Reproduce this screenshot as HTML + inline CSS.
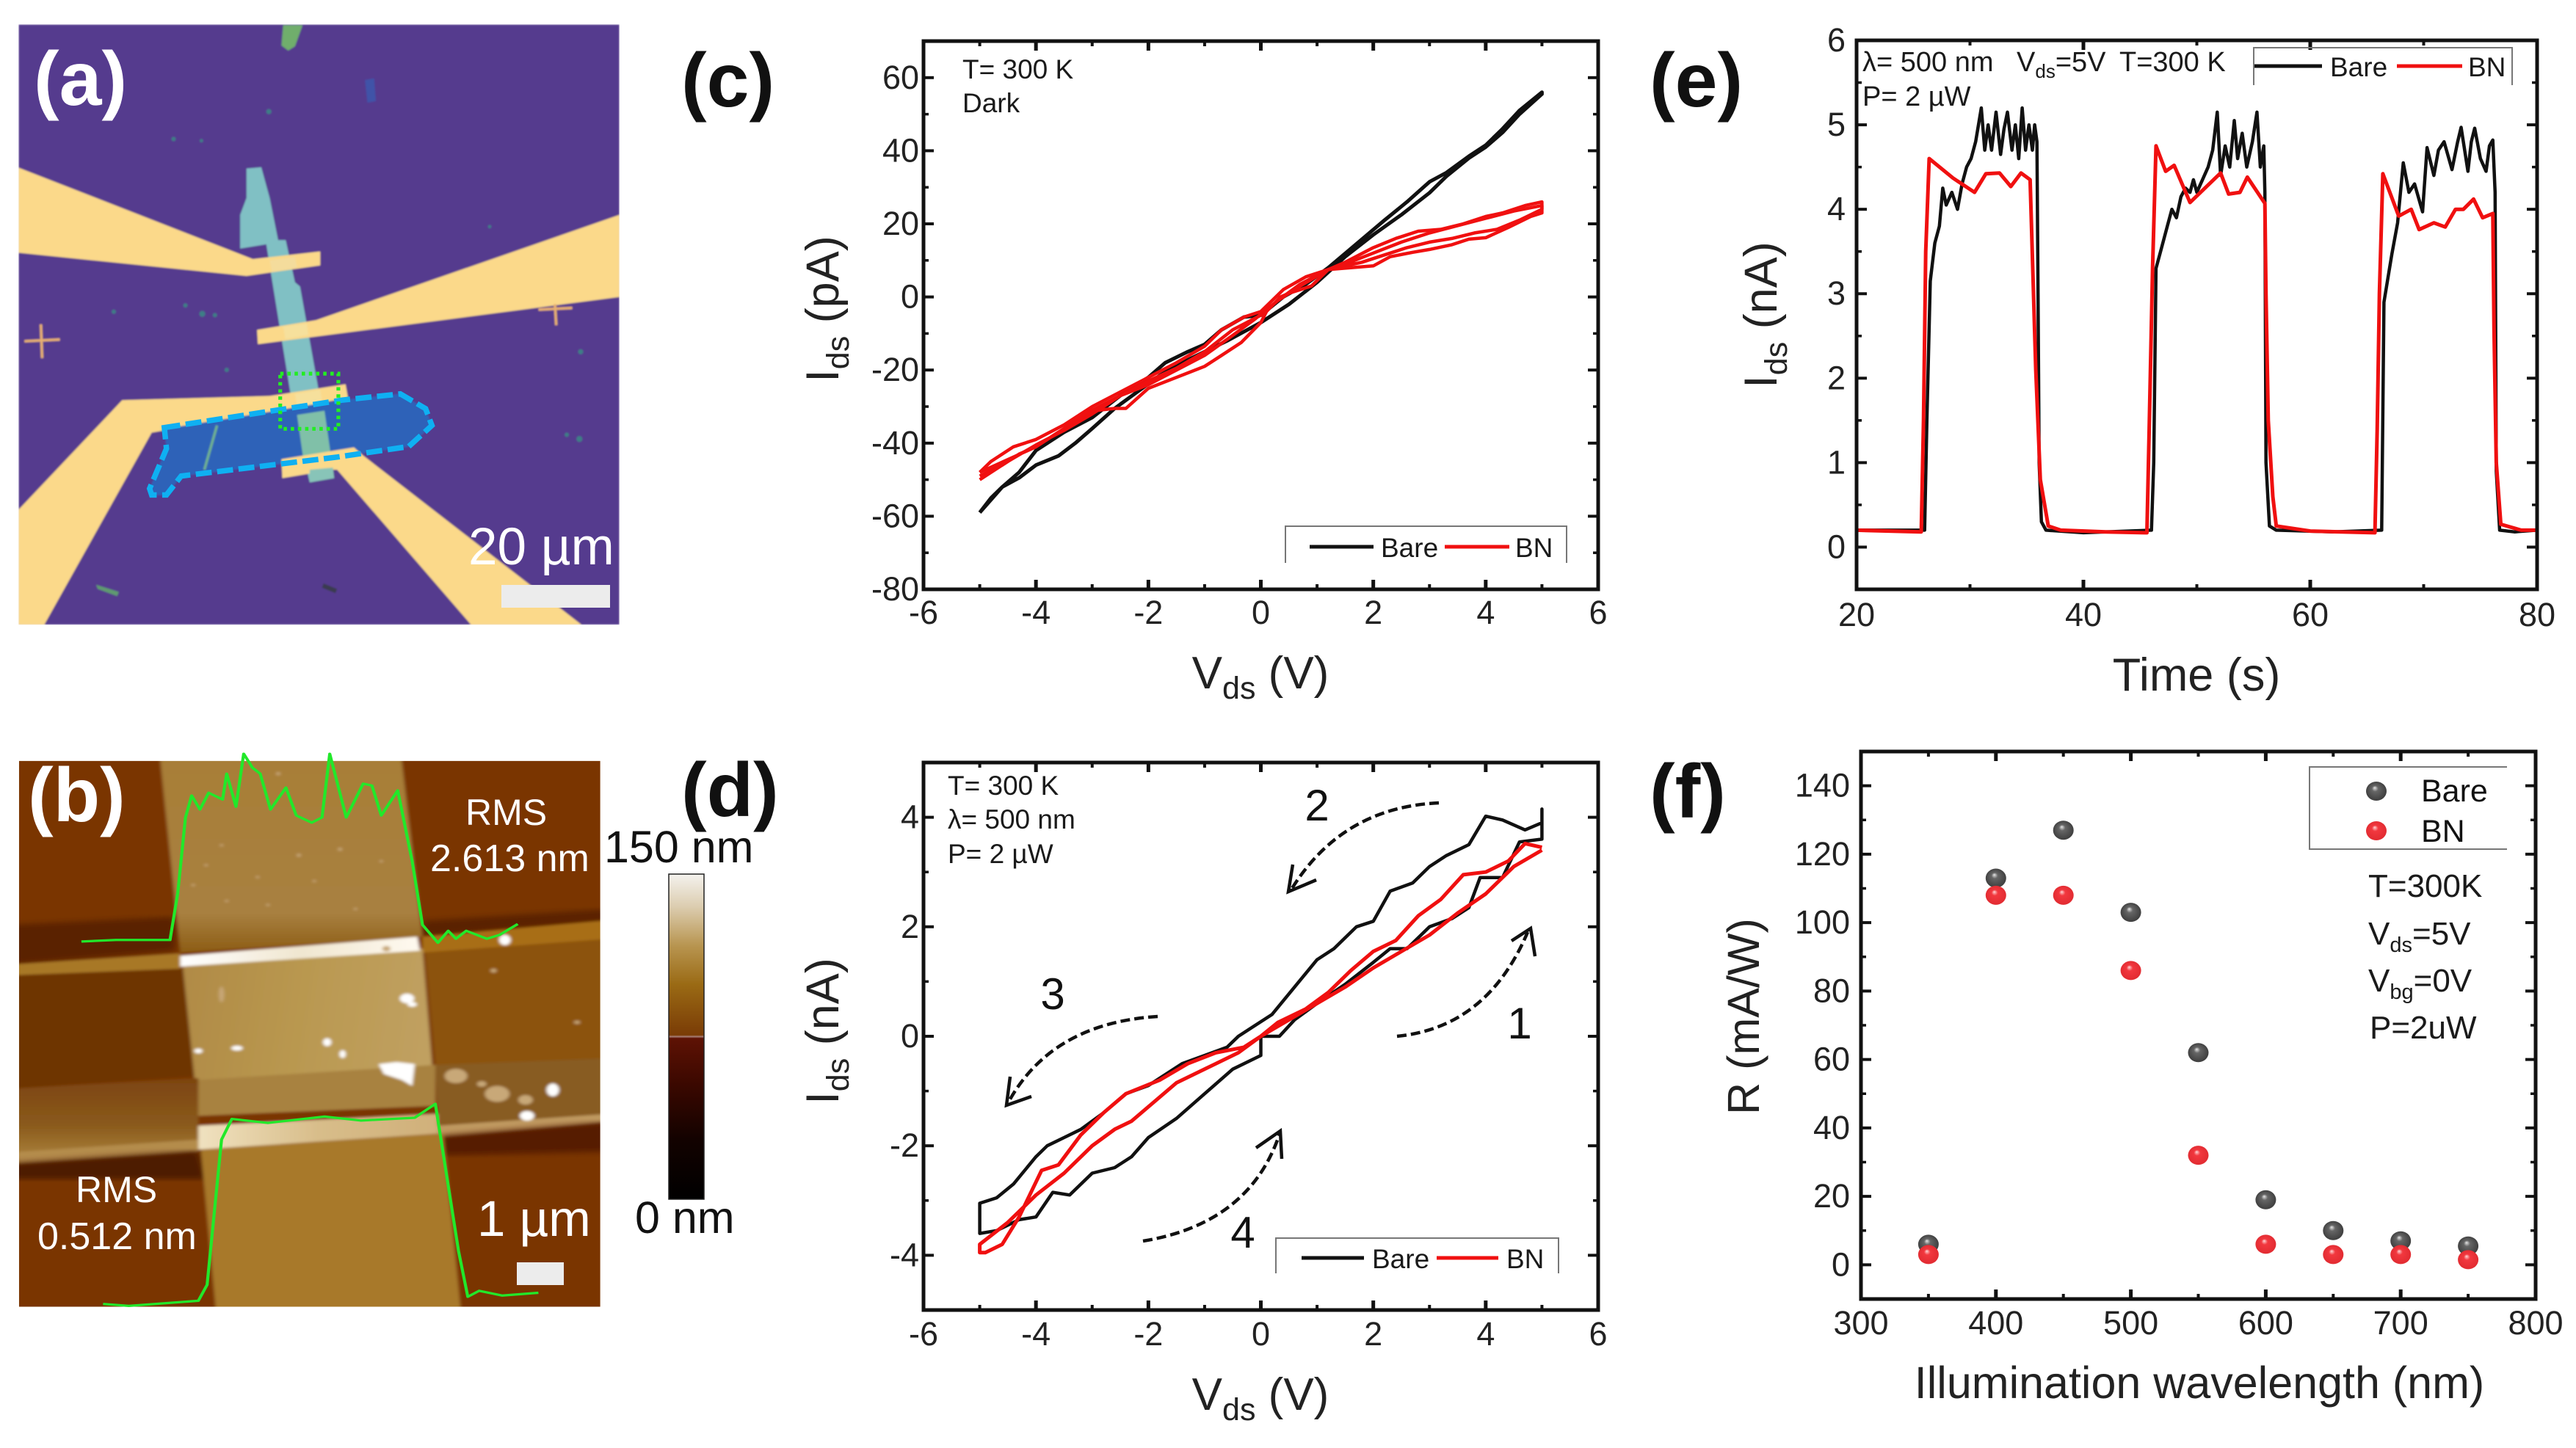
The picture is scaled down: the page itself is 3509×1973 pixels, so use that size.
<!DOCTYPE html>
<html lang="en">
<head>
<meta charset="utf-8">
<title>Device characterisation figure</title>
<style>
html,body{margin:0;padding:0;background:#fff}
svg{display:block}
text{font-family:"Liberation Sans",Arial,sans-serif}
.panel-letter{font-weight:bold;font-size:104px}
.note{font-size:37px;fill:#1a1a1a}
.note-e{font-size:38px;fill:#1a1a1a}
.note-f{font-size:44px;fill:#1a1a1a}
.leg{font-size:37px;fill:#1a1a1a}
</style>
</head>
<body>
<svg id="figure" xmlns="http://www.w3.org/2000/svg" width="3509" height="1973" viewBox="0 0 3509 1973">
<defs>
  <filter id="soft" x="-5%" y="-5%" width="110%" height="110%"><feGaussianBlur stdDeviation="2"/></filter>
  <filter id="soft3" x="-5%" y="-5%" width="110%" height="110%"><feGaussianBlur stdDeviation="3.5"/></filter>
  <filter id="soft2" x="-5%" y="-5%" width="110%" height="110%"><feGaussianBlur stdDeviation="7"/></filter>
  <clipPath id="clip-a"><rect x="44" y="58" width="1426" height="1425"/></clipPath>
  <clipPath id="clip-b"><rect x="37" y="68" width="1128" height="1372"/></clipPath>
  <radialGradient id="ball-dark" cx="0.5" cy="0.5" r="0.55" fx="0.42" fy="0.32"><stop offset="0" stop-color="#e8e8e8"/><stop offset="0.28" stop-color="#666"/><stop offset="1" stop-color="#3a3a3a"/></radialGradient>
  <radialGradient id="ball-red" cx="0.5" cy="0.5" r="0.55" fx="0.42" fy="0.32"><stop offset="0" stop-color="#ffd8d8"/><stop offset="0.28" stop-color="#f2383f"/><stop offset="1" stop-color="#e02a30"/></radialGradient>
  <linearGradient id="cbar" x1="0" y1="0" x2="0" y2="1">
    <stop offset="0" stop-color="#f4f2ee"/><stop offset="0.1" stop-color="#dccdb0"/><stop offset="0.22" stop-color="#b89550"/><stop offset="0.34" stop-color="#9a6a14"/><stop offset="0.495" stop-color="#7a3c06"/><stop offset="0.5" stop-color="#a88078"/><stop offset="0.505" stop-color="#5e1204"/><stop offset="0.65" stop-color="#3a0800"/><stop offset="0.82" stop-color="#120200"/><stop offset="1" stop-color="#000"/>
  </linearGradient>
  <linearGradient id="col-top" x1="0" y1="0" x2="0" y2="1"><stop offset="0" stop-color="#a87e36"/><stop offset="0.8" stop-color="#a88040"/><stop offset="1" stop-color="#8c5c14"/></linearGradient>
  <linearGradient id="col-mid" x1="0" y1="0" x2="1" y2="0.1"><stop offset="0" stop-color="#b08a45"/><stop offset="0.5" stop-color="#b99850"/><stop offset="1" stop-color="#c0a060"/></linearGradient>
  <linearGradient id="bright" x1="0" y1="0" x2="1" y2="0"><stop offset="0" stop-color="#fff"/><stop offset="0.5" stop-color="#f0e6d0"/><stop offset="1" stop-color="#fffaf0"/></linearGradient>
  <linearGradient id="bright2" x1="0" y1="0" x2="1" y2="0"><stop offset="0" stop-color="#f0e2c0"/><stop offset="0.5" stop-color="#d8bd8a"/><stop offset="1" stop-color="#d0b07a"/></linearGradient>
  <linearGradient id="band-left" x1="0" y1="0" x2="0" y2="1"><stop offset="0" stop-color="#7c4410"/><stop offset="0.55" stop-color="#8a5a1c"/><stop offset="1" stop-color="#b08840"/></linearGradient>
</defs>

<g id="panel-a">
  <g transform="scale(0.574)" clip-path="url(#clip-a)">
    <g filter="url(#soft)">
      <rect x="44" y="58" width="1426" height="1425" fill="#553a8e"/>
      <polygon points="672,60 718,60 700,110 684,120 668,108" fill="#6fae6c"/>
      <polygon points="866,190 888,186 892,240 872,244" fill="#3f52a8"/>
      <polygon points="585,400 620,397 640,470 660,570 678,570 700,670 712,680 755,920 780,1060 793,1135 735,1145 700,1000 640,630 632,580 570,590 570,510 585,470" fill="#80c0c4"/>
      <polygon points="44,398 600,615 760,597 760,630 585,655 44,600" fill="#fbd98a"/>
      <polygon points="1470,510 750,760 610,783 612,817 1470,705" fill="#fbd98a"/>
      <polygon points="44,1210 290,950 640,940 820,912 826,945 360,1027 105,1483 44,1483" fill="#fbd98a"/>
      <polygon points="390,1018 810,950 950,935 1010,970 1025,1010 970,1060 800,1085 430,1130 395,1175 360,1175 355,1160 395,1065" fill="#2d62b8"/>
      <polygon points="705,985 770,975 790,1115 725,1125" fill="#80c0a8"/>
      <polygon points="668,1090 840,1062 860,1080 1380,1483 1118,1483 800,1115 790,1115 670,1135" fill="#fbd98a"/>
      <polygon points="735,1115 790,1110 793,1135 735,1145" fill="#88c4b8"/>
      <polygon points="640,618 700,610 705,635 645,645" fill="#f4dc9c"/>
      <polygon points="672,775 728,768 732,795 677,805" fill="#f6e09c"/>
      <polygon points="700,935 760,925 765,955 705,965" fill="#f6e09c"/>
      <line x1="515" y1="1010" x2="485" y2="1115" stroke="#6fb090" stroke-width="6"/>
      <g stroke="#e8b070" stroke-width="6" fill="none">
        <line x1="58" y1="810" x2="142" y2="806"/><line x1="97" y1="770" x2="100" y2="850"/>
        <line x1="1278" y1="735" x2="1358" y2="731"/><line x1="1317" y1="722" x2="1320" y2="772"/>
      </g>
      <g fill="#3c7e86">
        <circle cx="638" cy="265" r="6"/><circle cx="412" cy="330" r="5"/><circle cx="478" cy="334" r="4"/><circle cx="270" cy="740" r="5"/><circle cx="480" cy="745" r="7"/><circle cx="510" cy="748" r="5"/><circle cx="440" cy="725" r="5"/><circle cx="1375" cy="1042" r="7"/><circle cx="1345" cy="1032" r="5"/><circle cx="1378" cy="835" r="6"/><circle cx="1162" cy="538" r="4"/><circle cx="538" cy="878" r="5"/>
      </g>
      <polygon points="228,1388 282,1405 278,1415 232,1398" fill="#5f9a70"/>
      <polygon points="768,1385 800,1398 796,1408 764,1395" fill="#3a3a50"/>
    </g>
    <polygon points="390,1015 810,950 950,935 1010,970 1025,1010 970,1060 800,1085 430,1130 395,1175 360,1175 355,1160 395,1065" fill="none" stroke="#0fb0f2" stroke-width="13" stroke-dasharray="38 13"/>
    <rect x="665" y="887" width="138" height="131" fill="none" stroke="#22ee22" stroke-width="9" stroke-dasharray="8 9"/>
  </g>
  <text class="panel-letter" x="46" y="143" fill="#fff">(a)</text>
  <text x="638" y="769" font-size="71" fill="#fff">20 µm</text>
  <rect x="683" y="797" width="148" height="31" fill="#ececec"/>
</g>

<g id="panel-b">
  <g transform="translate(0,1000) scale(0.7018,0.5420)" clip-path="url(#clip-b)">
    <g filter="url(#soft3)">
      <rect x="20" y="50" width="1165" height="1410" fill="#7a3606"/>
      <polygon points="20,480 340,460 340,545 20,580" fill="#5a2000" filter="url(#soft2)"/>
      <polygon points="820,470 1185,440 1185,470 820,510" fill="#5a2000" filter="url(#soft2)"/>
      <polygon points="310,50 778,50 820,510 350,550" fill="url(#col-top)"/>
      <polygon points="20,580 350,552 350,595 20,612" fill="#a87828"/>
      <polygon points="820,510 1185,468 1185,515 820,550" fill="#a86e14"/>
      <polygon points="20,607 355,590 385,860 20,892" fill="#6e3402"/>
      <polygon points="825,550 1185,515 1185,815 845,835" fill="#8c520a"/>
      <polygon points="355,585 820,540 845,930 385,960" fill="url(#col-mid)"/>
      <polygon points="350,558 810,510 815,545 350,585" fill="url(#bright)"/>
      <polygon points="385,870 845,832 845,935 385,960" fill="#a88240"/>
      <polygon points="20,892 385,865 385,1045 20,1082" fill="url(#band-left)"/>
      <polygon points="845,832 1185,815 1185,960 850,985" fill="#885c20"/>
      <polygon points="850,985 1185,955 1185,975 850,1015" fill="#c09a60"/>
      <polygon points="385,985 850,955 850,1005 385,1045" fill="url(#bright2)"/>
      <polygon points="20,1052 385,1020 385,1050 20,1082" fill="#b48c4c"/>
      <polygon points="20,1080 385,1048 400,1120 20,1120" fill="#4e1c00" filter="url(#soft2)"/>
      <polygon points="855,1010 1185,975 1185,1050 860,1060" fill="#561f00" filter="url(#soft2)"/>
      <polygon points="390,1045 860,1005 895,1460 420,1460" fill="#a8792c"/>
      <g fill="#fff">
        <ellipse cx="790" cy="665" rx="14" ry="12"/><ellipse cx="800" cy="680" rx="9" ry="6"/>
        <ellipse cx="460" cy="790" rx="11" ry="6"/><ellipse cx="385" cy="797" rx="8" ry="6"/>
        <ellipse cx="635" cy="775" rx="8" ry="10"/><ellipse cx="665" cy="805" rx="6" ry="10"/>
        <polygon points="735,830 770,825 805,830 800,885 780,870 745,855"/>
        <ellipse cx="980" cy="518" rx="11" ry="13"/><ellipse cx="1073" cy="895" rx="12" ry="16"/><ellipse cx="1023" cy="960" rx="14" ry="12"/>
      </g>
      <g fill="#c8a878">
        <ellipse cx="885" cy="860" rx="22" ry="18"/><ellipse cx="965" cy="905" rx="24" ry="20"/><ellipse cx="935" cy="880" rx="9" ry="7"/><ellipse cx="1020" cy="920" rx="14" ry="12"/>
        <ellipse cx="1120" cy="725" rx="6" ry="4"/><ellipse cx="958" cy="595" rx="6" ry="5"/><ellipse cx="430" cy="655" rx="5" ry="20"/><ellipse cx="750" cy="540" rx="8" ry="7"/>
        <circle cx="540" cy="100" r="4"/><circle cx="660" cy="290" r="4"/><circle cx="580" cy="305" r="4"/><circle cx="430" cy="280" r="3"/><circle cx="500" cy="360" r="3"/><circle cx="400" cy="330" r="3"/><circle cx="610" cy="370" r="3"/><circle cx="520" cy="430" r="3"/><circle cx="690" cy="440" r="3"/><circle cx="440" cy="420" r="3"/><circle cx="740" cy="320" r="3"/><circle cx="375" cy="380" r="3"/>
      </g>
    </g>
  </g>
  <g transform="translate(0,1000) scale(0.7018,0.5420)" fill="none" stroke="#22e82a" stroke-width="6" stroke-linejoin="round">
    <polyline points="158,522 225,518 330,518 345,400 360,210 372,155 388,190 405,148 432,165 440,100 458,183 473,50 490,85 505,100 525,190 555,135 575,205 605,223 625,210 640,50 672,210 705,125 722,130 740,205 772,142 800,320 820,480 850,525 870,495 885,515 905,495 945,515 970,505 1005,478"/>
    <polyline points="200,1433 250,1438 385,1425 402,1385 430,1020 450,968 520,978 630,962 700,972 805,965 845,930 890,1300 908,1415 930,1400 975,1412 1045,1405"/>
  </g>
  <text class="panel-letter" x="38" y="1119" fill="#fff">(b)</text>
  <text x="634" y="1124" font-size="50" fill="#fff">RMS</text>
  <text x="586" y="1187" font-size="52" fill="#fff">2.613 nm</text>
  <text x="103" y="1638" font-size="50" fill="#fff">RMS</text>
  <text x="51" y="1702" font-size="52" fill="#fff">0.512 nm</text>
  <text x="650" y="1684" font-size="69" fill="#fff">1 µm</text>
  <rect x="704" y="1720" width="64" height="31" fill="#ececec"/>
</g>

<g id="colorbar">
  <rect x="911" y="1191" width="48" height="443" fill="url(#cbar)" stroke="#222" stroke-width="1.5"/>
  <text x="823" y="1175" font-size="61" fill="#111">150 nm</text>
  <text x="865" y="1680" font-size="61" fill="#111">0 nm</text>
</g>

<text class="panel-letter" x="928" y="145" fill="#111">(c)</text>
<text class="panel-letter" x="928" y="1112" fill="#111">(d)</text>
<text class="panel-letter" x="2247" y="145" fill="#111">(e)</text>
<text class="panel-letter" x="2247" y="1114" fill="#111">(f)</text>

<g id="charts"></g>

<g id="notes-c">
  <text class="note" x="1311" y="107">T= 300 K</text>
  <text class="note" x="1311" y="153">Dark</text>
</g>
<g id="notes-d">
  <text class="note" x="1291" y="1083">T= 300 K</text>
  <text class="note" x="1291" y="1129">λ= 500 nm</text>
  <text class="note" x="1291" y="1176">P= 2 µW</text>
</g>
<g id="notes-e">
  <text class="note-e" x="2537" y="97">λ= 500 nm</text>
  <text class="note-e" x="2747" y="97">V<tspan style="font-size:26px" dy="9">ds</tspan><tspan dy="-9">=5V</tspan></text>
  <text class="note-e" x="2887" y="97">T=300 K</text>
  <text class="note-e" x="2537" y="144">P= 2 µW</text>
</g>
<g id="notes-f">
  <text class="note-f" x="3226" y="1222">T=300K</text>
  <text class="note-f" x="3226" y="1287">V<tspan style="font-size:29px" dy="10">ds</tspan><tspan dy="-10">=5V</tspan></text>
  <text class="note-f" x="3226" y="1351">V<tspan style="font-size:29px" dy="10">bg</tspan><tspan dy="-10">=0V</tspan></text>
  <text class="note-f" x="3228" y="1415">P=2uW</text>
</g>

<g id="sweep-arrows" fill="none" stroke="#111" stroke-width="4.5">
  <path d="M1903 1412 Q2026 1400 2081 1270" stroke-dasharray="13 6"/>
  <polyline points="2059,1282 2085,1265 2091,1303"/>
  <path d="M1960 1094 Q1828 1100 1759 1212" stroke-dasharray="13 6"/>
  <polyline points="1761,1178 1755,1215 1793,1199"/>
  <path d="M1577 1385 Q1432 1394 1373 1503" stroke-dasharray="13 6"/>
  <polyline points="1376,1467 1371,1506 1405,1494"/>
  <path d="M1557 1691 Q1704 1667 1744 1542" stroke-dasharray="13 6"/>
  <polyline points="1711,1564 1744,1541 1746,1579"/>
</g>
<g id="sweep-numbers" font-size="60" fill="#111" text-anchor="middle">
  <text x="2070" y="1415">1</text>
  <text x="1794" y="1118">2</text>
  <text x="1434" y="1375">3</text>
  <text x="1693" y="1700">4</text>
</g>

<g id="legend-c">
  <polyline points="1751,767 1751,717 2134,717 2134,767" fill="none" stroke="#777" stroke-width="2"/>
  <line x1="1784" y1="745" x2="1871" y2="745" stroke="#111" stroke-width="5"/>
  <text class="leg" x="1881" y="759">Bare</text>
  <line x1="1968" y1="745" x2="2056" y2="745" stroke="#f01010" stroke-width="5"/>
  <text class="leg" x="2064" y="759">BN</text>
</g>
<g id="legend-d">
  <polyline points="1738,1735 1738,1687 2123,1687 2123,1735" fill="none" stroke="#777" stroke-width="2"/>
  <line x1="1773" y1="1714" x2="1858" y2="1714" stroke="#111" stroke-width="5"/>
  <text class="leg" x="1869" y="1728">Bare</text>
  <line x1="1957" y1="1714" x2="2041" y2="1714" stroke="#f01010" stroke-width="5"/>
  <text class="leg" x="2052" y="1728">BN</text>
</g>
<g id="legend-e">
  <polyline points="3070,116 3070,65 3422,65 3422,116" fill="none" stroke="#777" stroke-width="2"/>
  <line x1="3071" y1="90" x2="3163" y2="90" stroke="#111" stroke-width="5"/>
  <text class="leg" x="3174" y="104">Bare</text>
  <line x1="3265" y1="90" x2="3354" y2="90" stroke="#f01010" stroke-width="5"/>
  <text class="leg" x="3362" y="104">BN</text>
</g>
<g id="legend-f">
  <polyline points="3415,1045 3146,1045 3146,1157 3415,1157" fill="none" stroke="#777" stroke-width="2"/>
  <ellipse cx="3237" cy="1078" rx="14" ry="13" fill="url(#ball-dark)"/>
  <text x="3298" y="1092" font-size="43" fill="#111">Bare</text>
  <ellipse cx="3237" cy="1132" rx="14" ry="13" fill="url(#ball-red)"/>
  <text x="3298" y="1147" font-size="43" fill="#111">BN</text>
</g>

<script>
/* ---------- panel (c) data : dark I-V ---------- */
const cXTicks = [-6,-4,-2,0,2,4,6];
const cXMinor = [-5,-3,-1,1,3,5];
const cYTicks = [-80,-60,-40,-20,0,20,40,60];
const cYMinor = [-70,-50,-30,-10,10,30,50,70];
const cBareV = [-5,-4.8,-4.6,-4.3,-4,-3.6,-3.3,-3,-2.6,-2.2,-1.8,-1.4,-1,-0.6,-0.3,0,0.5,1,1.5,2,2.5,3,3.3,3.7,4,4.3,4.6,5,5,4.6,4.3,4,3.7,3.3,3,2.6,2.2,1.7,1.2,0.8,0.4,0,-0.3,-0.7,-1,-1.3,-1.7,-2,-2.5,-3,-3.5,-4,-4.3,-4.6,-5];
const cBareI = [-59,-55,-52,-49.5,-46,-43.5,-40,-36,-30.5,-26,-21.5,-18,-15,-12,-9.5,-7,-2,4,11,17,22.5,28.5,33,38,41,45,50,55.5,56,51,46,41.5,38.5,34,31.5,26,21,14.5,8,3.5,0,-5,-5.5,-9,-13,-15,-18,-22,-27,-33,-37,-42,-48,-52,-59];
const cBnV1 = [-5,-4.6,-4.3,-4,-3.6,-3.2,-2.9,-2.6,-2.4,-2,-1.5,-1,-0.7,-0.35,0,0.1,0.35,0.5,0.9,1.2,1.6,2,2.3,2.7,3,3.4,3.7,4,4.4,4.8,5,5,4.7,4.3,4,3.6,3.2,2.8,2.4,2,1.5,1.2,0.8,0.4,0,-0.3,-0.7,-1,-1.5,-2,-2.5,-3,-3.5,-4,-4.4,-4.8,-5];
const cBnI1 = [-49,-46,-43,-41,-37,-33.5,-31,-30.5,-30.5,-25,-22,-19,-16,-12.5,-7,-4,0,1,3,7.5,8,8.5,11,12.2,13,14.3,15.8,16.2,19,22,23,26,25,23,22,20,18.5,18,16,13.5,9.5,7.5,5.5,2,-4,-5.5,-9,-13.5,-18,-22,-26,-30,-35,-39,-41,-45,-48];
const cBnV2 = [-5,-4.5,-4,-3.5,-3,-2.5,-2,-1.5,-1,-0.5,-0.1,0.3,0.7,1.2,1.8,2.2,2.6,3,3.4,3.8,4.2,4.6,5,5,4.5,4,3.5,3,2.5,2,1.5,1.2,0.7,0.3,0,-0.5,-1,-1.5,-2,-2.5,-3,-3.5,-4,-4.5,-5];
const cBnI2 = [-48,-44.5,-41,-36,-31,-27,-24,-20,-16,-10.5,-6,-1,3,7.5,9.5,11.5,13.5,15,16,17.5,18.5,21,24,25,23.5,21.5,19.5,17.5,15,12,9,7.5,3.5,-1,-5,-9,-15,-19.5,-23,-27,-32,-36.5,-40.5,-45,-50];

/* ---------- panel (d) data : illuminated I-V ---------- */
const dXTicks = [-6,-4,-2,0,2,4,6];
const dXMinor = [-5,-3,-1,1,3,5];
const dYTicks = [-4,-2,0,2,4];
const dYMinor = [-5,-3,-1,1,3,5];
const dBareV = [0,0.33,0.6,1,1.5,2,2.3,2.6,3,3.4,3.7,3.9,4.3,4.6,5,5,5,4.7,4.3,4,3.7,3.3,3,2.7,2.3,2,1.7,1.3,1,0.6,0.2,-0.4,-0.6,-1,-1.4,-2,-2.4,-2.8,-3.2,-3.5,-3.8,-4,-4.4,-4.7,-5,-5,-4.7,-4.3,-4,-3.7,-3.4,-3,-2.6,-2.3,-2,-1.5,-1,-0.5,0,0];
const dBareI = [0,0,0.3,0.6,0.95,1.35,1.6,1.6,2,2.15,2.35,2.9,2.9,3.55,3.6,4.15,3.9,3.77,3.95,4.02,3.5,3.3,3.1,2.8,2.65,2.1,2,1.6,1.4,0.9,0.4,0,-0.2,-0.35,-0.5,-0.9,-1.05,-1.4,-1.7,-1.85,-2,-2.2,-2.7,-2.95,-3.05,-3.6,-3.55,-3.35,-3.3,-2.85,-2.9,-2.5,-2.4,-2.2,-1.85,-1.5,-1.05,-0.6,-0.35,0];
const dBnV = [5,4.7,4.4,4,3.6,3.2,2.8,2.4,2,1.6,1.2,0.8,0.3,0,-0.3,-0.8,-1.3,-1.8,-2.4,-2.8,-3.2,-3.6,-3.9,-4.3,-4.6,-4.9,-5,-5,-4.5,-4.2,-4,-3.5,-3,-2.6,-2.3,-1.9,-1.5,-1,-0.4,0,0.5,1,1.5,2,2.5,3,3.5,4,4.5,5];
const dBnI = [3.45,3.52,3.2,3,2.95,2.5,2.2,1.75,1.55,1.2,0.8,0.5,0.25,0,-0.2,-0.3,-0.5,-0.8,-1.05,-1.4,-1.8,-2.35,-2.45,-3.3,-3.8,-3.95,-3.95,-3.8,-3.4,-3.1,-2.9,-2.5,-2,-1.7,-1.55,-1.2,-0.85,-0.6,-0.3,0,0.3,0.6,0.9,1.25,1.55,1.85,2.25,2.6,3.1,3.4];

/* ---------- panel (e) data : time response ---------- */
const eXTicks = [20,40,60,80];
const eXMinor = [30,50,70];
const eYTicks = [0,1,2,3,4,5,6];
const eYMinor = [-0.5,0.5,1.5,2.5,3.5,4.5,5.5];
const eBareT = [20,25.9,26,26.2,26.5,26.9,27.3,27.6,27.9,28.4,28.9,29.3,29.7,30.1,30.5,31,31.3,31.6,31.9,32.3,32.7,33,33.3,33.7,34,34.3,34.6,34.9,35.2,35.5,35.7,35.9,36,36.1,36.3,36.7,40,46,46.2,46.4,46.8,47.4,47.8,48.2,48.6,49,49.4,49.7,50,50.5,51,51.4,51.8,52.1,52.5,52.9,53.3,53.6,54,54.4,54.9,55.3,55.6,55.9,56,56.1,56.4,57,62,66.3,66.5,67.2,67.7,68.2,68.7,69.2,69.9,70.3,70.9,71.3,71.8,72.5,73,73.3,73.9,74.2,74.5,75,75.5,75.8,76.1,76.3,76.4,76.7,78,80];
const eBareI = [0.2,0.2,0.2,1.5,3.15,3.6,3.8,4.25,4.05,4.2,4,4.3,4.5,4.6,4.8,5.2,4.7,5,4.7,5.15,4.65,4.95,5.15,4.7,5,4.6,5.2,4.7,5,4.7,5,4.8,3,1,0.3,0.2,0.17,0.2,1,3.3,3.5,3.8,4,3.9,4.15,4.25,4.2,4.35,4.2,4.35,4.5,4.7,5.15,4.4,4.75,4.5,5.05,4.6,4.9,4.5,4.8,5.15,4.5,4.75,4.2,1,0.25,0.2,0.18,0.2,2.9,3.47,3.84,4.55,4.2,4.3,3.97,4.73,4.4,4.7,4.8,4.47,4.8,4.97,4.45,4.8,4.96,4.6,4.45,4.75,4.82,4.2,0.9,0.2,0.18,0.2];
const eBnT = [20,25.7,25.9,26.1,26.4,28.5,30.4,31.4,32.6,33.6,34.5,35.3,35.8,36.2,36.9,38,42,45.6,45.8,46.1,46.4,47.25,48,49.4,52.1,52.8,53.8,54.45,56,56.1,56.3,56.7,57,60,65.7,65.9,66.1,66.4,67.8,68.9,69.6,70.9,71.9,72.8,73.5,74.4,75.2,76.1,76.2,76.4,76.8,78.6,80];
const eBnI = [0.2,0.18,1.5,3.5,4.6,4.37,4.2,4.42,4.43,4.27,4.43,4.35,2.1,0.8,0.25,0.2,0.18,0.17,1.4,3.3,4.75,4.45,4.52,4.08,4.43,4.18,4.2,4.38,4.07,3,1.5,0.6,0.25,0.19,0.17,1.4,3,4.42,3.92,4,3.76,3.84,3.79,4,4,4.12,3.9,3.95,2.6,1,0.27,0.2,0.2];

/* ---------- panel (f) data : responsivity ---------- */
const fXTicks = [300,400,500,600,700,800];
const fXMinor = [350,450,550,650,750];
const fYTicks = [0,20,40,60,80,100,120,140];
const fYMinor = [-10,10,30,50,70,90,110,130,150];
const fWavelengths = [350,400,450,500,550,600,650,700,750];
const fBareR = [6,113,127,103,62,19,10,7,5.5];
const fBnR = [3,108,108,86,32,6,3,3,1.5];

const SVGNS = 'http://www.w3.org/2000/svg';
const chartsRoot = document.getElementById('charts');

function make(parent, tag, attrs, text) {
  const el = document.createElementNS(SVGNS, tag);
  for (const k in attrs) el.setAttribute(k, attrs[k]);
  if (text !== undefined) el.textContent = text;
  parent.appendChild(el);
  return el;
}
function scale(d0, d1, r0, r1) {
  return v => r0 + (v - d0) / (d1 - d0) * (r1 - r0);
}

function drawAxes(id, box, xDom, yDom, xTicks, xMinor, yTicks, yMinor, opt) {
  const g = make(chartsRoot, 'g', {});
  
  
  const sx = scale(xDom[0], xDom[1], box.x0, box.x1);
  const sy = scale(yDom[0], yDom[1], box.y1, box.y0);

  const marksG = make(g, 'g', {});
  
  

  const ticksG = make(g, 'g', {stroke: '#111'});
  
  
  const tick = (x1, y1, x2, y2, w) => make(ticksG, 'line', {x1, y1, x2, y2, 'stroke-width': w});
  xTicks.forEach(v => {
    const x = sx(v);
    tick(x, box.y1, x, box.y1 - 13, 5);
    tick(x, box.y0, x, box.y0 + 13, 5);
  });
  xMinor.forEach(v => {
    const x = sx(v);
    tick(x, box.y1, x, box.y1 - 7, 4);
    tick(x, box.y0, x, box.y0 + 7, 4);
  });
  yTicks.forEach(v => {
    const y = sy(v);
    tick(box.x0, y, box.x0 + 14, y, 4);
    tick(box.x1, y, box.x1 - 14, y, 4);
  });
  yMinor.forEach(v => {
    const y = sy(v);
    tick(box.x0, y, box.x0 + 7, y, 3.5);
    tick(box.x1, y, box.x1 - 7, y, 3.5);
  });

  const frame = make(g, 'rect', {x: box.x0, y: box.y0, width: box.x1 - box.x0, height: box.y1 - box.y0, fill: 'none', stroke: '#111', 'stroke-width': 5});
  
  

  xTicks.forEach(v => {
    const t = make(g, 'text', {x: sx(v), y: opt.xLabelY, 'text-anchor': 'middle', 'font-size': 45, fill: '#222'}, String(v));
    
    
  });
  yTicks.forEach(v => {
    const t = make(g, 'text', {x: opt.yLabelX, y: sy(v) + 15, 'text-anchor': 'end', 'font-size': 45, fill: '#222'}, String(v));
    
    
  });

  const xt = make(g, 'text', {x: opt.xTitleX, y: opt.xTitleY, 'text-anchor': 'middle', 'font-size': opt.xTitleSize, fill: '#222'});
  
  
  opt.xTitle.forEach(part => {
    make(xt, 'tspan', part.sub ? {'font-size': 43, dy: 14} : {'font-size': opt.xTitleSize, dy: part.back ? -14 : 0}, part.text);
  });
  const yt = make(g, 'text', {x: opt.yTitleX, y: opt.yTitleY, 'text-anchor': 'middle', 'font-size': opt.yTitleSize, fill: '#222', transform: 'rotate(-90 ' + opt.yTitleX + ' ' + opt.yTitleY + ')'});
  
  
  opt.yTitle.forEach(part => {
    make(yt, 'tspan', part.sub ? {'font-size': 43, dy: 14} : {'font-size': opt.yTitleSize, dy: part.back ? -14 : 0}, part.text);
  });
  return {sx, sy, marksG};
}

function drawLine(ax, xs, ys, color, width) {
  const pts = xs.map((v, i) => ax.sx(v).toFixed(1) + ',' + ax.sy(ys[i]).toFixed(1)).join(' ');
  return make(ax.marksG, 'polyline', {points: pts, fill: 'none', stroke: color, 'stroke-width': width, 'stroke-linejoin': 'round'});
}

const boxC = {x0: 1258, x1: 2177, y0: 56, y1: 803};
const boxD = {x0: 1258, x1: 2177, y0: 1039, y1: 1785};
const boxE = {x0: 2529, x1: 3456, y0: 55, y1: 803};
const boxF = {x0: 2535, x1: 3454, y0: 1024, y1: 1770};

const axC = drawAxes('c', boxC, [-6, 6], [-80, 70], cXTicks, cXMinor, cYTicks, cYMinor, {
  xLabelY: 850, yLabelX: 1252, xTitleX: 1717, xTitleY: 938, xTitleSize: 62, yTitleX: 1142, yTitleY: 421, yTitleSize: 63,
  xTitle: [{text: 'V'}, {text: 'ds', sub: true}, {text: ' (V)', back: true}],
  yTitle: [{text: 'I'}, {text: 'ds', sub: true}, {text: ' (pA)', back: true}]
});
const axD = drawAxes('d', boxD, [-6, 6], [-5, 5], dXTicks, dXMinor, dYTicks, dYMinor, {
  xLabelY: 1833, yLabelX: 1252, xTitleX: 1717, xTitleY: 1921, xTitleSize: 62, yTitleX: 1142, yTitleY: 1405, yTitleSize: 63,
  xTitle: [{text: 'V'}, {text: 'ds', sub: true}, {text: ' (V)', back: true}],
  yTitle: [{text: 'I'}, {text: 'ds', sub: true}, {text: ' (nA)', back: true}]
});
const axE = drawAxes('e', boxE, [20, 80], [-0.5, 6], eXTicks, eXMinor, eYTicks, eYMinor, {
  xLabelY: 853, yLabelX: 2514, xTitleX: 2992, xTitleY: 941, xTitleSize: 63, yTitleX: 2420, yTitleY: 429, yTitleSize: 63,
  xTitle: [{text: 'Time (s)'}],
  yTitle: [{text: 'I'}, {text: 'ds', sub: true}, {text: ' (nA)', back: true}]
});
const axF = drawAxes('f', boxF, [300, 800], [-10, 150], fXTicks, fXMinor, fYTicks, fYMinor, {
  xLabelY: 1818, yLabelX: 2520, xTitleX: 2996, xTitleY: 1905, xTitleSize: 61, yTitleX: 2396, yTitleY: 1385, yTitleSize: 61,
  xTitle: [{text: 'Illumination wavelength (nm)'}],
  yTitle: [{text: 'R (mA/W)'}]
});

const lineCBare = drawLine(axC, cBareV, cBareI, '#111', 5);


const lineCBn1 = drawLine(axC, cBnV1, cBnI1, '#f01010', 4.5);


const lineCBn2 = drawLine(axC, cBnV2, cBnI2, '#f01010', 4.5);



const lineDBare = drawLine(axD, dBareV, dBareI, '#111', 4.5);


const lineDBn = drawLine(axD, dBnV, dBnI, '#f01010', 5);



const lineEBare = drawLine(axE, eBareT, eBareI, '#111', 4.5);


const lineEBn = drawLine(axE, eBnT, eBnI, '#f01010', 5);



fWavelengths.forEach((w, i) => {
  const dot = make(axF.marksG, 'ellipse', {cx: axF.sx(w), cy: axF.sy(fBareR[i]), rx: 14, ry: 13, fill: 'url(#ball-dark)'});
  
  
});
fWavelengths.forEach((w, i) => {
  const dot = make(axF.marksG, 'ellipse', {cx: axF.sx(w), cy: axF.sy(fBnR[i]), rx: 14, ry: 13, fill: 'url(#ball-red)'});
  
  
});
</script>
</svg>
</body>
</html>
